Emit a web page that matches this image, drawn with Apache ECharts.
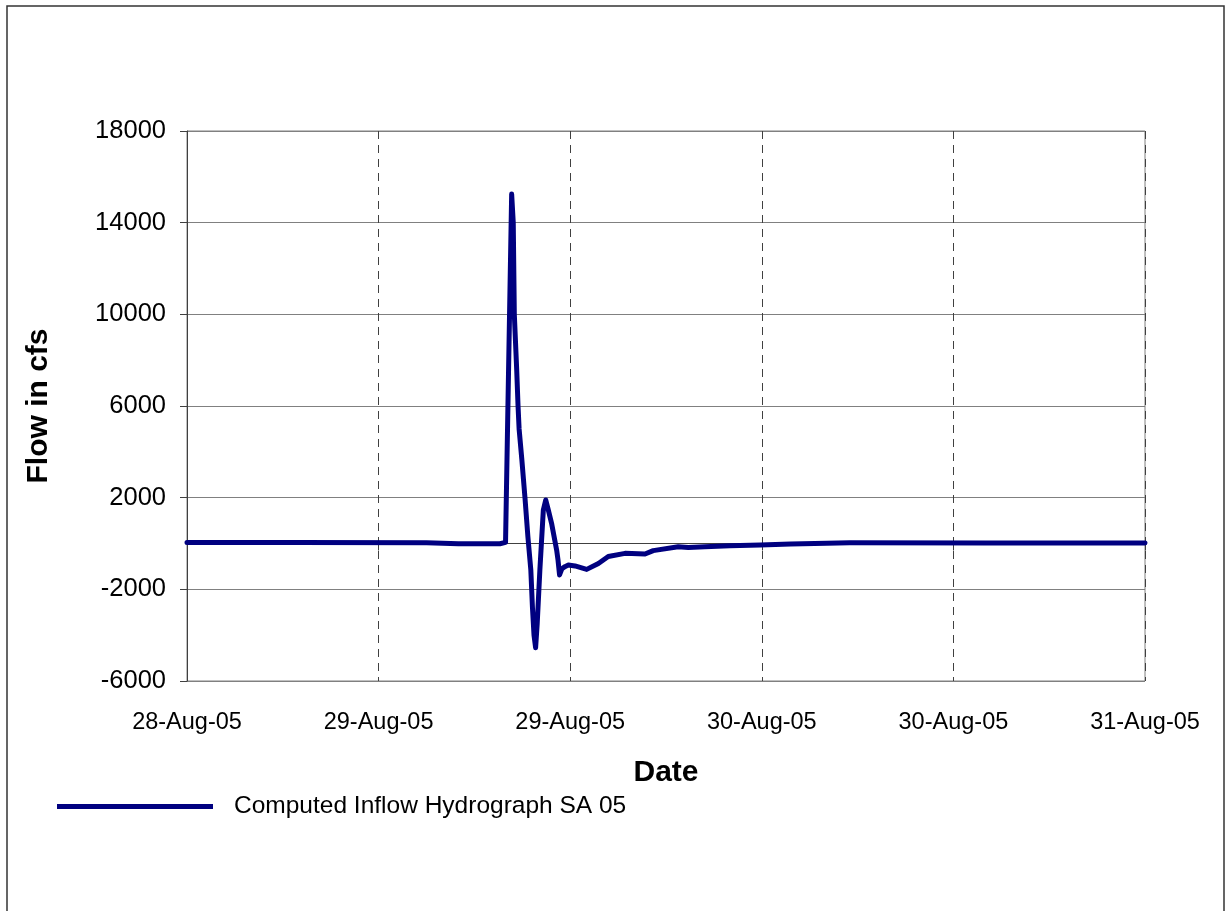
<!DOCTYPE html>
<html>
<head>
<meta charset="utf-8">
<script src="https://cdn.jsdelivr.net/npm/echarts@6/dist/echarts.min.js"></script>
<style>
html,body{margin:0;padding:0;background:#fff;}
#chart{width:1231px;height:911px;}
</style>
</head>
<body>
<div id="chart"></div>
<script>
// Time stamps (UTC) and flow values
const times = [
  '2005-08-28 12:00','2005-08-28 19:00','2005-08-29 03:00','2005-08-29 05:00','2005-08-29 07:36',
  '2005-08-29 07:57','2005-08-29 08:20','2005-08-29 08:26','2005-08-29 08:30','2005-08-29 08:39',
  '2005-08-29 08:44','2005-08-29 08:48','2005-08-29 08:58','2005-08-29 09:10','2005-08-29 09:21',
  '2005-08-29 09:32','2005-08-29 09:38','2005-08-29 09:44','2005-08-29 09:50','2005-08-29 09:56',
  '2005-08-29 10:06','2005-08-29 10:19','2005-08-29 10:28','2005-08-29 10:37','2005-08-29 10:50',
  '2005-08-29 11:09','2005-08-29 11:14','2005-08-29 11:20','2005-08-29 11:29','2005-08-29 11:40',
  '2005-08-29 11:53','2005-08-29 12:18','2005-08-29 13:02','2005-08-29 13:46','2005-08-29 14:23',
  '2005-08-29 15:26','2005-08-29 16:41','2005-08-29 17:12','2005-08-29 18:46','2005-08-29 19:24',
  '2005-08-29 20:26','2005-08-29 22:00','2005-08-29 23:54','2005-08-30 01:48','2005-08-30 04:04',
  '2005-08-30 05:30','2005-08-30 14:00','2005-08-31 00:00'
];
const flows = [
  40, 40, 30, -10, -10,
  50, 15250, 14000, 10000, 7570,
  6000, 5000, 3700, 2000, 300,
  -1150, -2760, -4000, -4550, -3500,
  -1160, 1460, 1900, 1500, 880,
  -280, -700, -1370, -1100, -1010,
  -940, -980, -1130, -870, -570,
  -430, -460, -310, -140, -170,
  -140, -100, -65, -20, 10,
  30, 25, 20
];
const seriesName = 'Computed Inflow Hydrograph SA 05';
const xMin = '2005-08-28 12:00';
const xMax = '2005-08-31 00:00';
const yTicks = [-6000, -2000, 2000, 6000, 10000, 14000, 18000];
const months = ['Jan','Feb','Mar','Apr','May','Jun','Jul','Aug','Sep','Oct','Nov','Dec'];

function toMs(s){
  const [d,t] = s.split(' ');
  const [Y,M,D] = d.split('-').map(Number);
  const [h,m] = t.split(':').map(Number);
  return Date.UTC(Y, M-1, D, h, m);
}
function fmtDate(ms){
  const d = new Date(ms);
  const yy = String(d.getUTCFullYear() % 100).padStart(2,'0');
  return d.getUTCDate() + '-' + months[d.getUTCMonth()] + '-' + yy;
}

const data = times.map((t,i)=>[toMs(t), flows[i]]);
const FONT = '"Liberation Sans", Arial, sans-serif';

const chart = echarts.init(document.getElementById('chart'), null, {renderer:'canvas'});
chart.setOption({
  backgroundColor:'#ffffff',
  animation:false,
  graphic:[{
    type:'rect', shape:{x:7, y:6, width:1217, height:930},
    style:{fill:'none', stroke:'#333333', lineWidth:1.5}, z:-1
  }],
  grid:{left:187, top:131, right:86, bottom:230, show:true, borderColor:'#808080', borderWidth:1},
  legend:{
    left:52, top:789, icon:'rect', itemWidth:156, itemHeight:5,
    data:[seriesName],
    textStyle:{fontFamily:FONT, fontSize:24.5, color:'#000', padding:[0,0,0,16]}
  },
  xAxis:{
    type:'value',
    min:toMs(xMin), max:toMs(xMax), interval:12*3600*1000,
    name:'Date', nameLocation:'middle', nameGap:77,
    nameTextStyle:{fontFamily:FONT, fontSize:30, fontWeight:'bold', color:'#000'},
    axisLine:{show:true, lineStyle:{color:'#404040', width:1}},
    axisTick:{show:true, length:7, inside:false, lineStyle:{color:'#404040'}},
    axisLabel:{margin:30, fontFamily:FONT, fontSize:23.5, color:'#000', formatter:v=>fmtDate(v)},
    splitLine:{show:true, lineStyle:{color:'#404040', type:[8,6], width:1}}
  },
  yAxis:{
    type:'value',
    min:yTicks[0], max:yTicks[yTicks.length-1], interval:4000,
    name:'Flow in cfs', nameLocation:'middle', nameGap:133, nameRotate:90,
    nameTextStyle:{fontFamily:FONT, fontSize:30, fontWeight:'bold', color:'#000'},
    axisLine:{show:true, lineStyle:{color:'#404040', width:1}},
    axisTick:{show:true, length:7, inside:false, lineStyle:{color:'#404040'}},
    axisLabel:{margin:21, fontFamily:FONT, fontSize:25.5, color:'#000', formatter:v=>String(v)},
    splitLine:{show:true, lineStyle:{color:'#808080', width:1}}
  },
  series:[{
    name:seriesName, type:'line', data:data,
    showSymbol:false, symbol:'none',
    lineStyle:{color:'#000080', width:5, join:'round', cap:'round'},
    itemStyle:{color:'#000080'}
  }]
});
</script>
</body>
</html>
